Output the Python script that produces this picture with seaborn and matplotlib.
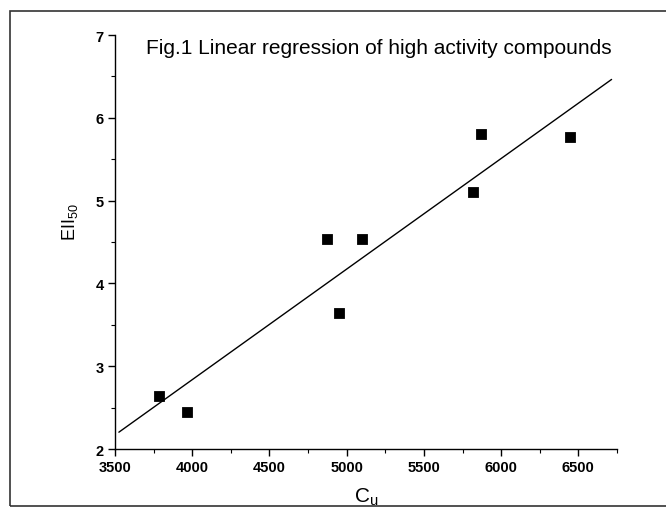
import matplotlib
matplotlib.use("Agg")
import matplotlib.pyplot as plt
import seaborn as sns
import pandas as pd
from matplotlib.patches import Rectangle

# values
cu = [3785, 3967, 4952, 4874, 5101, 5820, 5872, 6449]
ei50 = [2.64, 2.45, 3.64, 4.54, 4.54, 5.10, 5.80, 5.77]
fit_range = [3525, 6715]
x_ticks = [3500, 4000, 4500, 5000, 5500, 6000, 6500]
y_ticks = [2, 3, 4, 5, 6, 7]

df = pd.DataFrame({"Cu": cu, "EI50": ei50})

sns.set_style("ticks", {"text.color": "black", "xtick.color": "black",
                        "ytick.color": "black", "axes.labelcolor": "black"})
plt.rcParams['font.family'] = ['Liberation Sans', 'DejaVu Sans']
plt.rcParams['mathtext.fontset'] = 'custom'
plt.rcParams['mathtext.rm'] = 'Liberation Sans'

fig = plt.figure(figsize=(6.66, 5.1), dpi=100)
ax = fig.add_axes([0.1727, 0.1176, 0.7537, 0.8118])

# regression line over the drawn range
ax.set_xlim(fit_range)
sns.regplot(data=df, x="Cu", y="EI50", scatter=False, ci=None, truncate=False,
            line_kws={"color": "black", "lw": 1.0}, ax=ax)
sns.scatterplot(data=df, x="Cu", y="EI50", marker="s", s=55, color="black",
                edgecolor="black", ax=ax, zorder=3)

ax.set_xlim(3500, 6750)
ax.set_ylim(2, 7)
ax.set_xticks(x_ticks)
ax.set_yticks(y_ticks)
ax.set_xticks([x + 250 for x in x_ticks], minor=True)
ax.set_yticks([y + 0.5 for y in y_ticks[:-1]], minor=True)
ax.tick_params(which="major", direction="out", length=5, width=1, labelsize=10.5,
               pad=3, colors="black")
ax.tick_params(which="minor", direction="out", length=3, width=0.8, colors="black")
for lab in ax.get_xticklabels() + ax.get_yticklabels():
    lab.set_fontweight("bold")

sns.despine(ax=ax)
for sp in ["left", "bottom"]:
    ax.spines[sp].set_linewidth(1.0)
    ax.spines[sp].set_color("black")

ax.set_xlabel(r"$\mathregular{C_u}$", fontsize=15, labelpad=8, color="black")
ax.set_ylabel(r"$\mathregular{EII_{50}}$", fontsize=13, color="black")
ax.yaxis.set_label_coords(-0.07, 0.55)

ax.text(0.062, 0.971, "Fig.1 Linear regression of high activity compounds",
        transform=ax.transAxes, fontsize=15, ha="left", va="center", color="black")

# scanned page frame
fig.patches.append(Rectangle((10 / 666, 3 / 510), 1.0, 495 / 510,
                             transform=fig.transFigure, fill=False,
                             edgecolor="#333333", lw=1.2))

fig.savefig("out.png", dpi=100, facecolor="white")
